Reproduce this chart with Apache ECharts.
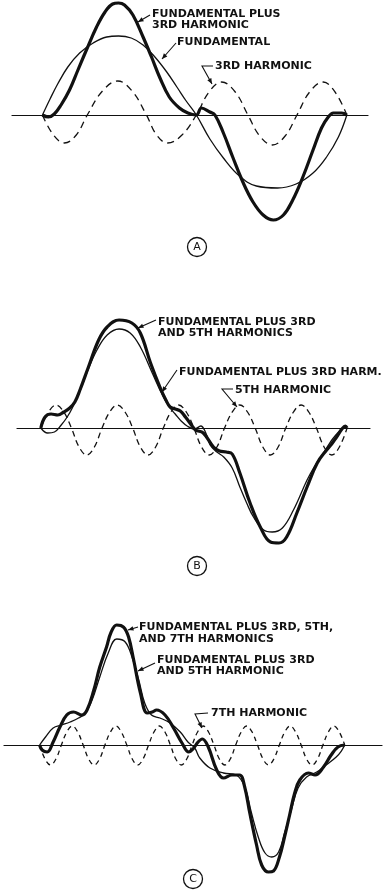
<!DOCTYPE html>
<html><head><meta charset="utf-8">
<script src="https://cdn.jsdelivr.net/npm/echarts@6/dist/echarts.min.js"></script>
<style>html,body{margin:0;padding:0;background:#fff}#c{width:392px;height:894px}</style>
</head><body><div id="c"></div>
<script>
// ---- Panel A : fundamental, 3rd harmonic, fundamental + 3rd (angle in degrees, amplitude) ----
const A_fund = [[0,0],[9,16],[18,31],[30,48],[44,62],[60,72],[76,78],[90,79],[105,77],[119,70],[133,58],[147,43],[159,28],[170,14],[182,0],[198,-24],[214,-43],[233,-61],[253,-71],[278,-73],[300,-69],[320,-58],[336,-42],[350,-22],[360,0]];
const A_h3 = [[0,0],[13,-20],[26,-28],[40,-20],[53,0],[71,24],[89,34],[106,24],[123,0],[135,-20],[148,-28],[165,-20],[182,0],[197,23],[212,33],[228,23],[243,0],[257,-21],[272,-30],[287,-21],[301,0],[316,23],[332,33],[346,23],[360,0]];
const A_sum = [[0,0],[7,-2],[14,1],[22,10],[32,25],[42,45],[52,65],[64,88],[74,103],[83,111],[90,112],[97,110],[107,100],[119,78],[129,58],[139,37],[150,18],[162,7],[172,2],[182,0],[188,7],[198,3],[204,0],[214,-18],[225,-42],[237,-67],[249,-87],[261,-100],[273,-105],[285,-100],[296,-85],[308,-62],[320,-35],[330,-13],[338,-2],[344,2],[354,2],[360,0]];

// ---- Panel B : fund + 3rd, 5th harmonic, fund + 3rd + 5th ----
const B_f3 = [[0,0],[8,-5],[16,-4],[24,3],[31,11],[37,20],[46,37],[54,55],[66,78],[78,93],[92,99],[105,95],[117,81],[131,55],[144,31],[152,20],[158,14],[165,7],[172,2],[181,-1],[188,2],[194,-5],[199,-17],[207,-24],[215,-29],[225,-40],[234,-59],[242,-75],[250,-89],[262,-102],[272,-104],[284,-100],[297,-82],[313,-52],[322,-38],[329,-29],[336,-20],[343,-11],[350,-4],[355,0],[360,0]];
const B_h5 = [[0,0],[9,16],[18,23],[27,16],[36,0],[45,-19],[54,-27],[63,-19],[72,0],[81,16],[90,23],[99,16],[108,0],[117,-19],[126,-27],[135,-19],[144,0],[153,16],[162,23],[171,16],[180,0],[189,-19],[198,-27],[207,-19],[216,0],[225,16],[234,23],[243,16],[252,0],[261,-19],[270,-27],[279,-19],[288,0],[297,16],[306,23],[315,16],[324,0],[333,-19],[342,-27],[351,-19],[360,0]];
const B_f35 = [[0,0],[5,11],[12,14],[20,13],[27,16],[34,20],[40,26],[46,38],[56,61],[68,88],[78,101],[92,108],[107,105],[117,95],[129,65],[140,41],[147,28],[152,21],[158,19],[164,17],[170,11],[177,3],[182,-2],[191,-5],[203,-19],[210,-23],[218,-24],[225,-26],[234,-45],[246,-75],[258,-99],[270,-114],[280,-115],[289,-109],[301,-85],[313,-59],[325,-35],[336,-22],[342,-16],[347,-10],[354,-1],[358,2],[360,0]];

// ---- Panel C : fund + 3rd + 5th, 7th harmonic, fund + 3rd + 5th + 7th ----
const C_f35 = [[0,0],[7,8],[16,17],[26,20],[36,23],[46,27],[54,32],[62,45],[71,68],[81,92],[91,106],[101,103],[109,88],[117,65],[124,42],[132,30],[142,27],[154,22],[166,13],[175,3],[183,-3],[189,-13],[201,-23],[217,-28],[232,-30],[242,-42],[250,-68],[258,-92],[266,-108],[274,-112],[282,-107],[289,-88],[297,-65],[305,-43],[315,-32],[327,-27],[338,-20],[350,-12],[356,-6],[360,0]];
const C_h7 = [[0,0],[6.4,-14],[12.9,-20],[19.3,-14],[25.7,0],[32.1,13],[38.6,19],[45,13],[51.4,0],[57.9,-14],[64.3,-20],[70.7,-14],[77.1,0],[83.6,13],[90,19],[96.4,13],[102.9,0],[109.3,-14],[115.7,-20],[122.1,-14],[128.6,0],[135,13],[141.4,19],[147.9,13],[154.3,0],[160.7,-14],[167.1,-20],[173.6,-14],[180,0],[186.4,13],[192.9,19],[199.3,13],[205.7,0],[212.1,-14],[218.6,-20],[225,-14],[231.4,0],[237.9,13],[244.3,19],[250.7,13],[257.1,0],[263.6,-14],[270,-20],[276.4,-14],[282.9,0],[289.3,13],[295.7,19],[302.1,13],[308.6,0],[315,-14],[321.4,-20],[327.9,-14],[334.3,0],[340.7,13],[347.1,19],[353.6,13],[360,0]];
const C_f357 = [[0,0],[3,-5],[9,-7],[16,3],[24,18],[32,30],[40,33],[50,30],[56,35],[64,55],[71,78],[79,98],[84,112],[91,120],[99,118],[105,108],[111,85],[119,52],[127,32],[133,33],[138,35],[148,30],[158,17],[168,2],[176,-7],[181,-4],[187,3],[192,6],[199,-2],[209,-25],[217,-33],[227,-30],[236,-30],[242,-42],[248,-68],[256,-100],[262,-120],[270,-127],[276,-126],[283,-112],[289,-92],[295,-70],[301,-48],[307,-35],[317,-28],[325,-30],[335,-22],[344,-10],[352,-2],[360,0]];

// ---- text ----
const panelLetters = ['A','B','C'];
const labelsA = [['FUNDAMENTAL PLUS','3RD HARMONIC'],['FUNDAMENTAL'],['3RD HARMONIC']];
const labelsB = [['FUNDAMENTAL PLUS 3RD','AND 5TH HARMONICS'],['FUNDAMENTAL PLUS 3RD HARM.'],['5TH HARMONIC']];
const labelsC = [['FUNDAMENTAL PLUS 3RD, 5TH,','AND 7TH HARMONICS'],['FUNDAMENTAL PLUS 3RD','AND 5TH HARMONIC'],['7TH HARMONIC']];

const INK = '#111';
const chart = echarts.init(document.getElementById('c'), null, {renderer:'canvas'});

const grids = [
  {left:12, width:356, top:0, height:250},
  {left:17, width:353, top:308, height:250},
  {left:4, width:378, top:615, height:270}
];
const xr = [[-36,385],[-28,387],[-42,404]];
const yr = [[-135,115],[-130,120],[-140,130]];

function line(data, idx, kind, dash) {
  const ls = {color: INK};
  if (kind === 'thick') { ls.width = 3.2; }
  else if (kind === 'thin') { ls.width = 1.3; }
  else { ls.width = 1.3; ls.type = dash; }
  return {type:'line', data, xAxisIndex:idx, yAxisIndex:idx, showSymbol:false, smooth:0.4,
          lineStyle:ls, z: kind === 'thick' ? 4 : 3, silent:true, animation:false};
}

const g = [];
function text(x, y, s) {
  g.push({type:'text', x, y, scaleX:1.1, silent:true,
    style:{text:s, x:0, y:0, fontFamily:'DejaVu Sans', fontSize:10, fontWeight:'bold', fill:INK, align:'left', verticalAlign:'middle'}});
}
function leader(pts) {
  g.push({type:'polyline', shape:{points:pts}, silent:true, style:{stroke:INK, lineWidth:1.1, fill:null}});
  const [x1,y1] = pts[pts.length-2], [x2,y2] = pts[pts.length-1];
  const a = Math.atan2(y2-y1, x2-x1), L = 5.5, W = 2.3;
  const bx = x2 - L*Math.cos(a), by = y2 - L*Math.sin(a);
  g.push({type:'polygon', silent:true, shape:{points:[[x2,y2],[bx - W*Math.sin(a), by + W*Math.cos(a)],[bx + W*Math.sin(a), by - W*Math.cos(a)]]}, style:{fill:INK}});
}
function badge(cx, cy, s) {
  g.push({type:'circle', shape:{cx, cy, r:9.5}, silent:true, style:{fill:'none', stroke:INK, lineWidth:1.3}});
  g.push({type:'text', x:cx, y:cy+0.5, silent:true, style:{text:s, fontFamily:'DejaVu Sans', fontSize:11, fill:INK, align:'center', verticalAlign:'middle'}});
}

// Panel A annotations
text(152, 14, labelsA[0][0]); text(152, 25, labelsA[0][1]);
leader([[150,15],[138,22]]);
text(177, 42, labelsA[1][0]);
leader([[176,43],[162,59]]);
text(215, 66, labelsA[2][0]);
leader([[213,66],[202,66],[212,84]]);
badge(197, 247, panelLetters[0]);

// Panel B annotations
text(158, 322, labelsB[0][0]); text(158, 333, labelsB[0][1]);
leader([[156,320],[138,328]]);
text(179, 372, labelsB[1][0]);
leader([[177,370],[162,392]]);
text(235, 390, labelsB[2][0]);
leader([[233,389],[222,389],[237,407]]);
badge(197, 566, panelLetters[1]);

// Panel C annotations
text(139, 627, labelsC[0][0]); text(139, 639, labelsC[0][1]);
leader([[138,627],[128,630]]);
text(157, 660, labelsC[1][0]); text(157, 671, labelsC[1][1]);
leader([[155,663],[138,671]]);
text(211, 713, labelsC[2][0]);
leader([[208,713],[195,714],[202,728]]);
badge(193, 879, panelLetters[2]);

const option = {
  backgroundColor:'#fff',
  animation:false,
  grid: grids.map(o => Object.assign({containLabel:false, outerBoundsMode:'none'}, o)),
  xAxis: xr.map((r,i) => ({type:'value', gridIndex:i, min:r[0], max:r[1],
    axisLine:{show:true, onZero:true, lineStyle:{color:INK, width:1.2}},
    axisTick:{show:false}, axisLabel:{show:false}, splitLine:{show:false}})),
  yAxis: yr.map((r,i) => ({type:'value', gridIndex:i, min:r[0], max:r[1], show:false,
    axisLine:{show:false}, axisTick:{show:false}, axisLabel:{show:false}, splitLine:{show:false}})),
  series: [
    line(A_h3, 0, 'dash', [7,5]), line(A_fund, 0, 'thin'), line(A_sum, 0, 'thick'),
    line(B_h5, 1, 'dash', [6,4]), line(B_f3, 1, 'thin'), line(B_f35, 1, 'thick'),
    line(C_h7, 2, 'dash', [5,4]), line(C_f35, 2, 'thin'), line(C_f357, 2, 'thick')
  ],
  graphic: g
};
chart.setOption(option);
</script></body></html>
